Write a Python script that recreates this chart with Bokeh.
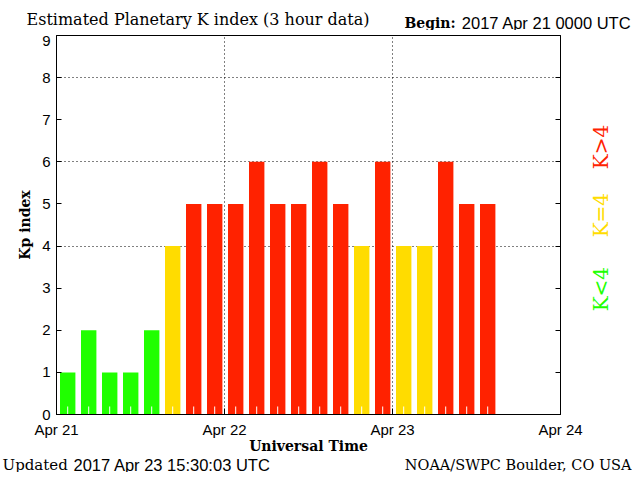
from math import pi
from bokeh.plotting import figure
from bokeh.models import Range1d, FixedTicker, LinearAxis, Label
from bokeh.layouts import column
from bokeh.core.properties import value
from bokeh.embed import file_html
from bokeh.resources import INLINE

# ---- data ----
period_start_hours = [0, 3, 6, 9, 12, 15, 18, 21, 24, 27, 30, 33, 36, 39, 42, 45, 48, 51, 54, 57, 60]
kp_values = [1, 2, 1, 1, 2, 4, 5, 5, 5, 6, 5, 5, 6, 5, 4, 6, 4, 4, 6, 5, 5]
day_ticks = [0, 24, 48, 72]
day_labels = ["Apr 21", "Apr 22", "Apr 23", "Apr 24"]
y_ticks = [0, 1, 2, 3, 4, 5, 6, 7, 8, 9]
y_tick_labels = ["0", "1", "2", "3", "4", "5", "6", "7", "8", "9"]
y_grid = [4, 6, 8]
x_grid = [24, 48]

GREEN = "#20ff00"
YELLOW = "#ffdc00"
RED = "#ff2200"

def kp_color(v):
    if v < 4:
        return GREEN
    if v == 4:
        return YELLOW
    return RED

colors = [kp_color(v) for v in kp_values]
BAR_OFFSET = 1.6
BAR_WIDTH = 2.2
centers = [h + BAR_OFFSET for h in period_start_hours]

# ---- layout in picture pixels ----
W = 632
HEADER_H = 30
FOOTER_TOP = 456
TOTAL_H = 472
FRAME_L, FRAME_T, FRAME_W, FRAME_H = 56, 35, 504, 384
FRAME_B = FRAME_T + FRAME_H
MAIN_H = FOOTER_TOP - HEADER_H
TEXT_SHIFT = 4.5  # text glyphs render this much below their nominal baseline

def hx(px):
    return (px - FRAME_L) / FRAME_W * 72.0

def vy(py):
    return (FRAME_B - py) / FRAME_H * 9.0


def text_strip(height, top):
    f = figure(width=W, height=height, output_backend="svg", toolbar_location=None,
               x_range=Range1d(0, W), y_range=Range1d(top + height, top),
               x_axis_location=None, y_axis_location=None, frame_align=False,
               min_border=0, min_border_left=0, min_border_right=0,
               min_border_top=0, min_border_bottom=0,
               outline_line_color=None, background_fill_color="white",
               border_fill_color="white")
    f.xgrid.visible = False
    f.ygrid.visible = False
    return f


def put_text(f, x, y, text, font, size, style="normal", align="left", color="black"):
    f.text(x=[x], y=[y - TEXT_SHIFT], text=[text], text_font=value(font),
           text_font_size=value(size), text_font_style=style, text_align=align,
           text_baseline="alphabetic", text_color=color)


# header
header = text_strip(HEADER_H, 0)
put_text(header, 26, 23, "Estimated Planetary K index (3 hour data)", "DejaVu Serif", "16px")
put_text(header, 404, 26.5, "Begin:", "DejaVu Serif", "14px", style="bold")
put_text(header, 631, 26.5, "2017 Apr 21 0000 UTC", "Liberation Sans", "16.5px", align="right")

# main chart
p = figure(width=W, height=MAIN_H, output_backend="svg", toolbar_location=None,
           x_range=Range1d(0, 72), y_range=Range1d(0, 9), frame_align=False,
           min_border_left=FRAME_L, min_border_right=W - FRAME_L - FRAME_W,
           min_border_top=FRAME_T - HEADER_H, min_border_bottom=FOOTER_TOP - FRAME_B,
           background_fill_color="white", border_fill_color="white",
           outline_line_color="black", outline_line_width=1)

p.xgrid.ticker = FixedTicker(ticks=x_grid)
p.ygrid.ticker = FixedTicker(ticks=y_grid)
for g in (p.xgrid, p.ygrid):
    g.grid_line_color = "black"
    g.grid_line_dash = "1 3"
    g.grid_line_width = 1

p.vbar(x=centers, width=BAR_WIDTH, top=kp_values, bottom=0,
       fill_color=colors, line_color=None)
p.segment(x0=centers, y0=[0] * len(centers), x1=centers, y1=[0.19] * len(centers),
          line_color="white", line_width=1)

xa = p.xaxis[0]
xa.ticker = FixedTicker(ticks=day_ticks)
xa.major_label_overrides = {t: lab for t, lab in zip(day_ticks, day_labels)}
xa.major_tick_in = 6
xa.major_tick_out = 0
xa.minor_tick_in = 0
xa.minor_tick_out = 0
xa.major_label_standoff = 6
xa.major_label_text_font = "Liberation Sans"
xa.major_label_text_font_size = "15px"
xa.major_label_text_color = "black"
xa.axis_label = "Universal Time"
xa.axis_label_text_font = "DejaVu Serif"
xa.axis_label_text_font_style = "bold"
xa.axis_label_text_font_size = "14px"
xa.axis_label_text_color = "black"
xa.axis_label_standoff = -3
xa.axis_line_color = "black"
xa.major_tick_line_color = "black"

# y axis; the top label (9) is kept below the frame's top edge, as in the
# reference, by a separate label in the left panel
ya = p.yaxis[0]
ya.ticker = FixedTicker(ticks=y_ticks)
overrides = {t: lab for t, lab in zip(y_ticks, y_tick_labels)}
overrides[y_ticks[-1]] = ""
ya.major_label_overrides = overrides
ya.major_tick_in = 5
ya.major_tick_out = 0
ya.minor_tick_in = 0
ya.minor_tick_out = 0
ya.major_label_standoff = 6
ya.major_label_text_font = "Liberation Sans"
ya.major_label_text_font_size = "15px"
ya.major_label_text_color = "black"
ya.axis_label = "Kp index"
ya.axis_label_text_font = "DejaVu Serif"
ya.axis_label_text_font_style = "bold"
ya.axis_label_text_font_size = "14px"
ya.axis_label_text_color = "black"
ya.axis_label_standoff = 6
ya.axis_line_color = "black"
ya.major_tick_line_color = "black"

p.add_layout(Label(x=hx(FRAME_L - 6), y=y_ticks[-1], text=y_tick_labels[-1],
                   text_font="Liberation Sans", text_font_size="15px", text_color="black",
                   text_align="right", text_baseline="top"), "left")

ra = LinearAxis(ticker=FixedTicker(ticks=y_ticks), major_tick_in=5, major_tick_out=0,
                minor_tick_in=0, minor_tick_out=0, major_label_text_color=None,
                axis_line_color="black", major_tick_line_color="black")
p.add_layout(ra, "right")

# colour legend texts on the right (in the right panel so they are not clipped)
for py, txt, col in [(148, "K>4", RED), (217, "K=4", YELLOW), (292, "K<4", GREEN)]:
    p.add_layout(Label(x=hx(600), y=vy(py), text=txt, text_font="DejaVu Serif",
                       text_font_size="20px", text_color=col, text_align="center",
                       text_baseline="middle", angle=pi / 2), "right")

# footer
footer = text_strip(TOTAL_H - FOOTER_TOP, FOOTER_TOP)
put_text(footer, 2, 468.5, "Updated", "DejaVu Serif", "15px")
put_text(footer, 73, 468.5, "2017 Apr 23 15:30:03 UTC", "Liberation Sans", "16.5px")
put_text(footer, 631, 468.5, "NOAA/SWPC Boulder, CO USA", "DejaVu Serif", "14.5px", align="right")

layout = column(header, p, footer, spacing=0)
open("out.html", "w").write(file_html(layout, INLINE))
